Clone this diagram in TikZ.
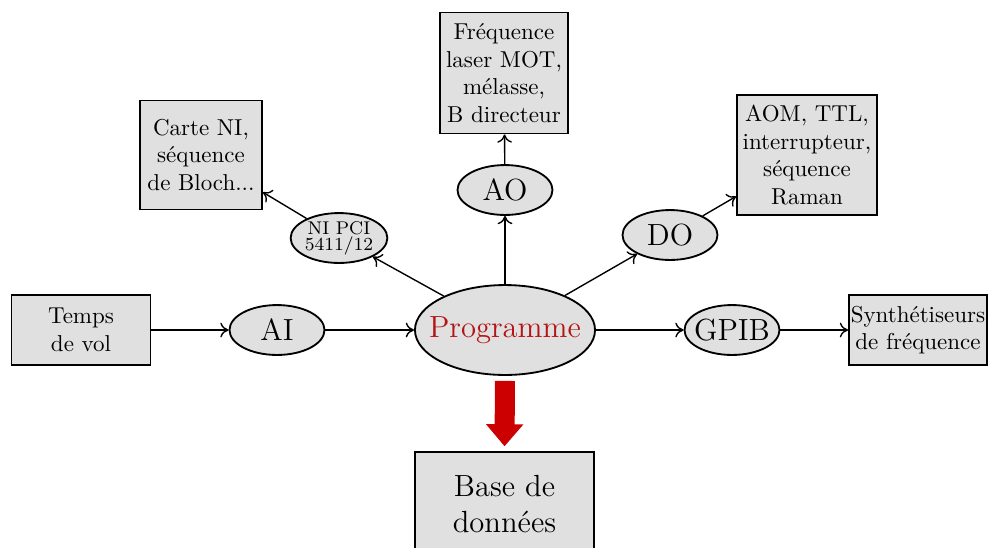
\documentclass[tikz,border=0pt]{standalone}
\usetikzlibrary{shapes.geometric,arrows.meta}
\definecolor{boxgray}{gray}{0.88}
\definecolor{progred}{RGB}{180,20,20}
\definecolor{arrred}{RGB}{204,0,0}
\newcommand{\bigtxt}{\fontsize{13.3}{16}\selectfont}
\tikzset{
  px/.style={x=0.4348pt,y=-0.4348pt},
  boxnode/.style={draw,thick,fill=boxgray,align=center,inner sep=1pt},
  ellnode/.style={draw,thick,fill=boxgray,ellipse,inner sep=0pt,font=\bigtxt,
    minimum width=41.3pt,minimum height=21.7pt},
  conn/.style={-{To[length=3.6pt,width=6.4pt]},semithick},
}
\begin{document}
\begin{tikzpicture}[px]
\useasboundingbox (0,0) rectangle (989,547);
\begin{scope}
\clip (0,0) rectangle (989,547);
\node[boxnode,minimum width=60.4pt,minimum height=30.4pt] (temps) at (81,330) {Temps\\de vol};
\node[ellnode] (ai) at (277,330) {AI};
\node[ellnode,minimum width=78.3pt,minimum height=39.1pt,inner xsep=-6.5pt,text=progred] (prog) at (505,330) {Programme};
\node[ellnode,inner xsep=-2.1pt] (gpib) at (732,330) {GPIB};
\node[boxnode,minimum width=60pt,minimum height=30.4pt,inner sep=0.5pt] (synth) at (918,330) {Synthétiseurs\\de fréquence};
\node[ellnode,font=\footnotesize,align=center] (ni) at (339,238) {NI PCI\\[-2.6pt]5411/12};
\node[boxnode,minimum width=53pt,minimum height=47.4pt] (carte) at (201,155) {Carte NI,\\séquence\\de Bloch...};
\node[ellnode] (ao) at (505,190) {AO};
\node[boxnode,minimum width=55.7pt,minimum height=52.6pt] (freq) at (504,73) {Fréquence\\laser MOT,\\mélasse,\\B directeur};
\node[ellnode] (do) at (670,235) {DO};
\node[boxnode,minimum width=60.9pt,minimum height=52.2pt] (aom) at (807,155) {AOM, TTL,\\interrupteur,\\séquence\\Raman};
\node[boxnode,minimum width=77.8pt,minimum height=45pt,font=\bigtxt] (base) at (504.5,504) {Base de\\données};
\draw[conn] (temps) -- (ai);
\draw[conn] (ai) -- (prog);
\draw[conn] (prog) -- (gpib);
\draw[conn] (gpib) -- (synth);
\draw[conn] (prog) -- (ni);
\draw[conn] (ni) -- (carte);
\draw[conn] (prog) -- (ao);
\draw[conn] (ao) -- (freq);
\draw[conn] (prog) -- (do);
\draw[conn] (do) -- (aom);
\draw[arrred,line width=8.7pt,-{Triangle[width=15.7pt,length=9.6pt]},shorten <=2.2pt,shorten >=2.2pt] (prog.south) -- (base.north);
\end{scope}
\end{tikzpicture}
\end{document}
